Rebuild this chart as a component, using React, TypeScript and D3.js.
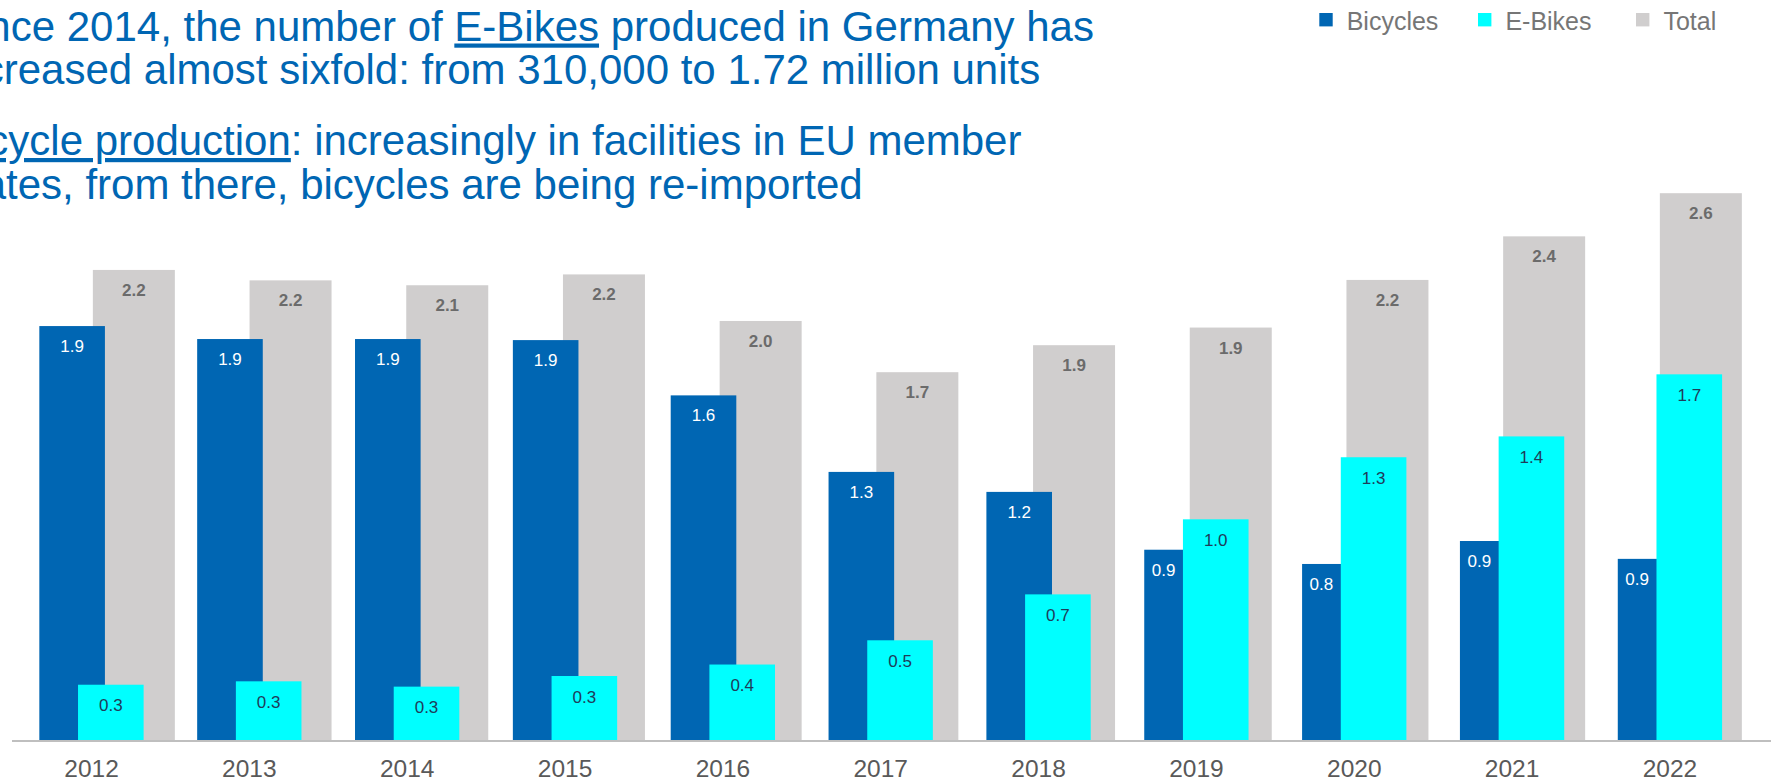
import React from 'react';
import * as d3 from 'd3';

const years = ['2012', '2013', '2014', '2015', '2016', '2017', '2018', '2019', '2020', '2021', '2022'];
const bicycles = [1.947, 1.886, 1.886, 1.881, 1.621, 1.261, 1.167, 0.895, 0.828, 0.936, 0.852];
const eBikes = [0.26, 0.276, 0.251, 0.301, 0.355, 0.469, 0.685, 1.038, 1.33, 1.428, 1.72];
const totals = [2.211, 2.162, 2.139, 2.19, 1.971, 1.73, 1.857, 1.94, 2.164, 2.369, 2.572];

const legendItems = [
  { label: 'Bicycles', color: '#0066b3' },
  { label: 'E-Bikes', color: '#00ffff' },
  { label: 'Total', color: '#d0cece' },
];

const W = 1771;
const H = 780;
const BLUE = '#0066b3';
const CYAN = '#00ffff';
const GRAY = '#d0cece';
const FONT = 'Liberation Sans, Arial, sans-serif';

export default function App() {
  const baseY = 740;
  const y = d3.scaleLinear().domain([0, 3]).range([baseY, baseY - 3 * 212.6]);
  const xMain = d3.scaleBand<string>().domain(years).range([12.6, 1748.9]);
  const xTot = d3.scaleBand<string>().domain(years).range([55.5, 1779.2]);
  const barW = 65.6;
  const totW = 82;
  const fmt = (v: number) => v.toFixed(1);

  const titleX = -50;
  const fs = 42;

  return (
    <svg width={W} height={H} style={{ position: 'absolute', left: 0, top: 0, background: '#fff' }} fontFamily={FONT}>
      <rect x={0} y={0} width={W} height={H} fill="#fff" />
      {/* Title */}
      <g fill={BLUE} fontSize={fs}>
        <text x={titleX} y={40.5}>
          Since 2014, the number of <tspan style={{ textDecoration: 'underline' }}>E-Bikes</tspan> produced in Germany has
        </text>
        <text x={titleX} y={84}>increased almost sixfold: from 310,000 to 1.72 million units</text>
        <text x={titleX} y={155}>
          <tspan style={{ textDecoration: 'underline' }}>Bicycle production</tspan>: increasingly in facilities in EU member
        </text>
        <text x={titleX} y={198.5}>states, from there, bicycles are being re-imported</text>
      </g>

      {/* Legend */}
      <g>
        {legendItems.map((d, i) => {
          const xs = [1319.3, 1478, 1636][i];
          return (
            <g key={d.label}>
              <rect x={xs} y={13} width={13.4} height={13.4} fill={d.color} />
              <text x={xs + 27.4} y={30} fontSize={25} fill="#767676">{d.label}</text>
            </g>
          );
        })}
      </g>

      {/* Total bars */}
      {years.map((yr, i) => {
        const cx = (xTot(yr) as number) + xTot.bandwidth() / 2;
        return (
          <rect key={'t' + yr} x={cx - totW / 2} y={y(totals[i])} width={totW} height={baseY - y(totals[i])} fill={GRAY} />
        );
      })}
      {/* Bicycle bars */}
      {years.map((yr, i) => {
        const cx = (xMain(yr) as number) + xMain.bandwidth() / 2;
        return (
          <rect key={'b' + yr} x={cx - 52.2} y={y(bicycles[i])} width={barW} height={baseY - y(bicycles[i])} fill={BLUE} />
        );
      })}
      {/* E-bike bars */}
      {years.map((yr, i) => {
        const cx = (xMain(yr) as number) + xMain.bandwidth() / 2;
        return (
          <rect key={'e' + yr} x={cx - 13.5} y={y(eBikes[i])} width={barW} height={baseY - y(eBikes[i])} fill={CYAN} />
        );
      })}

      {/* Axis line */}
      <line x1={12} x2={W} y1={baseY + 1} y2={baseY + 1} stroke="#bfbfbf" strokeWidth={2} />

      {/* Labels */}
      <g fontSize={17} textAnchor="middle">
        {years.map((yr, i) => {
          const cx = (xTot(yr) as number) + xTot.bandwidth() / 2;
          return (
            <text key={'tl' + yr} x={cx} y={y(totals[i]) + 26} fill="#6b6b6b" fontWeight="bold">{fmt(totals[i])}</text>
          );
        })}
        {years.map((yr, i) => {
          const cx = (xMain(yr) as number) + xMain.bandwidth() / 2;
          const bx0 = cx - 52.2;
          const bx1 = eBikes[i] > bicycles[i] ? cx - 13.5 : bx0 + barW;
          return (
            <text key={'bl' + yr} x={(bx0 + bx1) / 2} y={y(bicycles[i]) + 26} fill="#ffffff">{fmt(bicycles[i])}</text>
          );
        })}
        {years.map((yr, i) => {
          const cx = (xMain(yr) as number) + xMain.bandwidth() / 2;
          return (
            <text key={'el' + yr} x={cx - 13.5 + barW / 2} y={y(eBikes[i]) + 26.5} fill="#1f3c5a">{fmt(eBikes[i])}</text>
          );
        })}
      </g>

      {/* X axis labels */}
      <g fontSize={24.5} textAnchor="middle" fill="#595959">
        {years.map((yr) => (
          <text key={'x' + yr} x={(xMain(yr) as number) + xMain.bandwidth() / 2} y={777}>{yr}</text>
        ))}
      </g>
    </svg>
  );
}
